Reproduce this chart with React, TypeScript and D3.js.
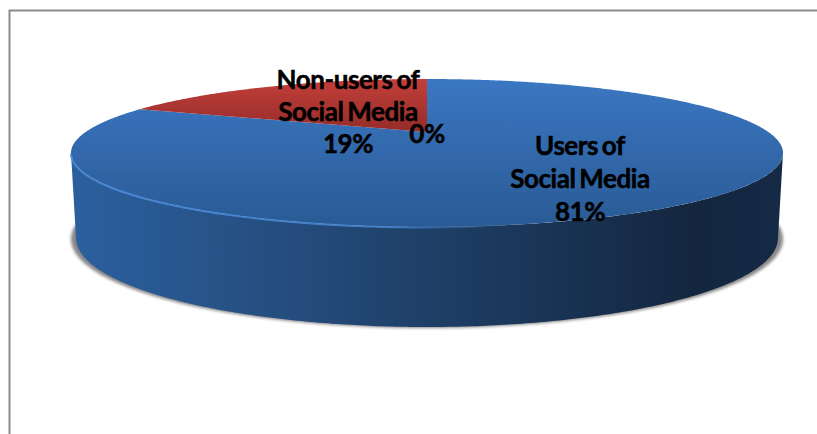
import React from "react";
import * as d3 from "d3";

// Share of respondents per group
const categories = ["Users of Social Media", "Non-users of Social Media", "Other"];
const shares = [81, 19, 0];
const shareLabels = ["81%", "19%", "0%"];

const WIDTH = 817;
const HEIGHT = 434;
const TILT = 0.284; // strength of the perspective foreshortening

type Face = { cx: number; cy: number; rx: number; ry: number };
const topFace: Face = { cx: 427, cy: 153, rx: 356, ry: 74 };
const bottomFace: Face = { cx: 427, cy: 238, rx: 351, ry: 89 };
const shadowFace: Face = { cx: 427, cy: 239, rx: 356, ry: 89 };

// Maps a pie angle (0 = back of the disc, clockwise) onto a tilted disc in perspective.
function project(face: Face, angle: number): [number, number] {
  const k = Math.sqrt(1 - TILT * TILT);
  const a = face.ry * k * k;
  const apexY = face.cy - face.ry + a / (1 + TILT);
  const scaleX = d3.scaleLinear().domain([-1, 1]).range([face.cx - face.rx * k, face.cx + face.rx * k]);
  const d = 1 + TILT * Math.cos(angle);
  const u = Math.sin(angle) / d;
  return [scaleX(u), apexY - (a * Math.cos(angle)) / d];
}

// The disc centre under perspective sits above the middle of the visible ellipse.
function apexOf(face: Face): [number, number] {
  return [face.cx, face.cy - face.ry + (face.ry * (1 - TILT * TILT)) / (1 + TILT)];
}

const line = d3.line();

function sweep(face: Face, start: number, end: number): [number, number][] {
  const n = Math.max(2, Math.ceil(Math.abs(end - start) / 0.01));
  return d3.range(n + 1).map((i) => project(face, start + ((end - start) * i) / n));
}

const pie = d3.pie<number>().sort(null).startAngle(0).endAngle(2 * Math.PI);
const slices = pie(shares);
const fills = ["url(#topBlue)", "url(#topRed)", "url(#topRed)"];

// The wall is visible between the two silhouette tangents of the disc
const tangent = Math.acos(-TILT);
const wallPath =
  line([
    ...sweep(topFace, tangent, 2 * Math.PI - tangent),
    ...sweep(bottomFace, 2 * Math.PI - tangent, tangent),
  ]) + "Z";
const shadowPath =
  line(sweep(shadowFace, tangent - 0.15, 2 * Math.PI - tangent + 0.15)) + "Z";
const rimPath = line(sweep(topFace, 2 * Math.PI - tangent, tangent + 0.25));

const labelLines: { x: number; lines: [string, number][] }[] = [
  { x: 580, lines: [["Users of", 155], ["Social Media", 188], [shareLabels[0], 221]] },
  { x: 348, lines: [["Non-users of", 89], ["Social Media", 121], [shareLabels[1], 153]] },
  { x: 427, lines: [[shareLabels[2], 143]] },
];

export default function App() {
  const apex = apexOf(topFace);
  return (
    <svg
      width={WIDTH}
      height={HEIGHT}
      viewBox={`0 0 ${WIDTH} ${HEIGHT}`}
      role="img"
      aria-label={categories.join(", ")}
      style={{ position: "fixed", left: 0, top: 0, background: "#fff" }}
    >
      <defs>
        <linearGradient id="topBlue" gradientUnits="userSpaceOnUse" x1="0" y1="79" x2="0" y2="228">
          <stop offset="0" stopColor="#3b77c2" />
          <stop offset="1" stopColor="#295a94" />
        </linearGradient>
        <linearGradient id="topRed" gradientUnits="userSpaceOnUse" x1="0" y1="79" x2="0" y2="133">
          <stop offset="0" stopColor="#c33f3a" />
          <stop offset="1" stopColor="#932c29" />
        </linearGradient>
        <linearGradient id="wall" gradientUnits="userSpaceOnUse" x1="70" y1="0" x2="783" y2="0">
          <stop offset="0" stopColor="#2b609f" />
          <stop offset="0.3" stopColor="#254d7e" />
          <stop offset="0.55" stopColor="#1d3c62" />
          <stop offset="0.88" stopColor="#14263f" />
          <stop offset="1" stopColor="#152a46" />
        </linearGradient>
        <linearGradient id="rim" gradientUnits="userSpaceOnUse" x1="70" y1="0" x2="783" y2="0">
          <stop offset="0" stopColor="#4a8ad6" stopOpacity="0.9" />
          <stop offset="0.45" stopColor="#4a8ad6" stopOpacity="0.8" />
          <stop offset="0.6" stopColor="#4a8ad6" stopOpacity="0" />
          <stop offset="1" stopColor="#4a8ad6" stopOpacity="0" />
        </linearGradient>
        <filter id="soft" x="-5%" y="-10%" width="110%" height="120%">
          <feGaussianBlur stdDeviation="1.8" />
        </filter>
        <filter id="rimSoft" x="-5%" y="-20%" width="110%" height="140%">
          <feGaussianBlur stdDeviation="0.7" />
        </filter>
      </defs>

      {/* frame */}
      <path d={`M9.5 ${HEIGHT}V10.5H${WIDTH}`} fill="none" stroke="#8c8c8c" strokeWidth={2} />

      {/* drop shadow under the disc */}
      <path d={shadowPath} fill="#6a6a6a" opacity={0.8} filter="url(#soft)" />

      <path d={wallPath} fill="url(#wall)" />

      {slices.map((s, i) =>
        s.endAngle - s.startAngle > 0 ? (
          <path
            key={categories[i]}
            d={line([apex, ...sweep(topFace, s.startAngle, s.endAngle)]) + "Z"}
            fill={fills[i]}
          />
        ) : null
      )}

      <path
        d={rimPath ?? ""}
        fill="none"
        stroke="url(#rim)"
        strokeWidth={2}
        filter="url(#rimSoft)"
        transform="translate(0,0.5)"
      />

      {labelLines.map((l, i) => (
        <text
          key={i}
          textAnchor="middle"
          fontFamily="Lato, 'Open Sans', sans-serif"
          fontWeight={700}
          fontSize={26}
          letterSpacing={-0.45}
          wordSpacing={-2}
          stroke="#000"
          strokeWidth={0.5}
          fill="#000"
        >
          {l.lines.map(([t, y]) => (
            <tspan key={t} x={l.x} y={y}>
              {t}
            </tspan>
          ))}
        </text>
      ))}
    </svg>
  );
}
